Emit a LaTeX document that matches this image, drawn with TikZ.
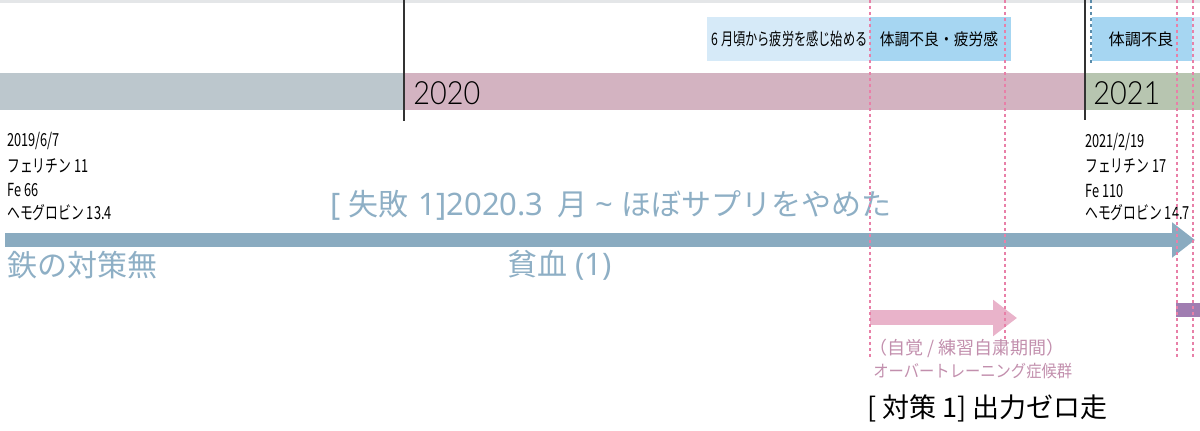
\documentclass[tikz,border=0pt]{standalone}
\usepackage{fontspec}
\setmainfont{Noto Sans CJK JP}
\newfontfamily\cond[FakeStretch=0.71]{Noto Sans CJK JP}
\newfontfamily\condb[FakeStretch=0.9]{Noto Sans CJK JP}
\newfontfamily\lat{Noto Sans}
\newfontfamily\thinfont[FakeStretch=0.9]{Lato Light}
\usetikzlibrary{arrows.meta}
\definecolor{bandgray}{HTML}{BCC7CD}
\definecolor{bandpink}{HTML}{D3B3C1}
\definecolor{bandgreen}{HTML}{B7C5B0}
\definecolor{boxlight}{HTML}{D6EAF8}
\definecolor{boxdark}{HTML}{A6D6F2}
\definecolor{arrowblue}{HTML}{8AABC0}
\definecolor{textblue}{HTML}{8EAFC5}
\definecolor{arrowpink}{HTML}{E9B3CA}
\definecolor{textpink}{HTML}{C28FAD}
\definecolor{barpurple}{HTML}{A07DB1}
\definecolor{guidepink}{HTML}{E880A8}
\definecolor{guideblue}{HTML}{5B8CAA}
\definecolor{topline}{HTML}{E4E6E8}
\begin{document}
\begin{tikzpicture}[x=0.5pt,y=-0.5pt,
  lbl/.style={inner sep=0pt, anchor=west},
  data/.style={lbl, font=\cond\fontsize{9}{10}\selectfont},
  yeartxt/.style={lbl, font=\thinfont\fontsize{16}{18}\selectfont},
  bigblue/.style={lbl, text=textblue, font=\fontsize{15}{16}\selectfont},
  boxtxt/.style={inner sep=0pt},
  pinktxt/.style={lbl, text=textpink},
  guide/.style={draw=guidepink, line width=0.55pt, dash pattern=on 1.5pt off 1.5pt},
  yearline/.style={line width=0.7pt, draw=black!80},
]
\useasboundingbox (0,0) rectangle (1200,431);
\fill[topline] (0,0) rectangle (1200,3);
% year bands
\fill[bandgray] (0,73) rectangle (404,110);
\fill[bandpink] (404,73) rectangle (1085,110);
\fill[bandgreen] (1085,73) rectangle (1200,110);
% condition boxes
\fill[boxlight] (707,17) rectangle (870,61);
\fill[boxdark] (870,17) rectangle (1011,61);
\fill[boxdark] (1092,17) rectangle (1192,61);
\fill[boxlight] (1192,17) rectangle (1200,61);
\node[boxtxt, anchor=east, font=\cond\fontsize{8.6}{10}\selectfont] (fatigue) at (868,39) {6 月頃から疲労を感じ始める};
\node[boxtxt, font=\condb\fontsize{8.2}{10}\selectfont] (unwell1) at (939,39) {体調不良・疲労感};
\node[boxtxt, font=\fontsize{8.1}{10}\selectfont] (unwell2) at (1141,39) {体調不良};
% year labels
\node[yeartxt] (y2020) at (413,93) {2020};
\node[yeartxt] (y2021) at (1093,93) {2021};
% blood data
\node[data] (d1a) at (7,141) {2019/6/7};
\node[data] (d1b) at (7,166) {フェリチン 11};
\node[data] (d1c) at (7,190) {Fe 66};
\node[data] (d1d) at (7,213) {ヘモグロビン 13.4};
\node[data] (d2a) at (1085,142) {2021/2/19};
\node[data] (d2b) at (1085,166) {フェリチン 17};
\node[data] (d2c) at (1085,191) {Fe 110};
\node[data] (d2d) at (1085,213) {ヘモグロビン 14.7};
% main arrow
\coordinate (bs) at (5,240);
\coordinate (be) at (1195,240);
\draw[arrowblue, line width=7pt, -{Triangle[length=11.5pt, width=17pt]}] (bs) -- (be);
\node[bigblue] (fail) at (330,205) {{\lat\fontsize{15.5}{16}\selectfont [ }失敗{\lat\fontsize{15.5}{16}\selectfont\ \hspace{1pt}1]2020.3\hspace{3pt}\ }月{\lat\fontsize{15.5}{16}\selectfont\ \textasciitilde\ }ほぼサプリをやめた};
\node[bigblue] (none) at (7,265) {鉄の対策無};
\node[bigblue] (anemia) at (507,265) {貧血{\lat\fontsize{15.5}{16}\selectfont\ (1)}};
% overtraining arrow
\coordinate (ps) at (870,318);
\coordinate (pe) at (1017,318);
\draw[arrowpink, line width=7.5pt, -{Triangle[length=12pt, width=17.5pt]}] (ps) -- (pe);
\node[pinktxt, font=\fontsize{9}{10}\selectfont] (ot1) at (869,348) {（自覚 / 練習自粛期間）};
\node[pinktxt, font=\condb\fontsize{8.5}{10}\selectfont] (ot2) at (873,371) {オーバートレーニング症候群};
\node[lbl, font=\fontsize{13.5}{15}\selectfont] (measure) at (867,408) {[ 対策 1] 出力ゼロ走};
% purple bar
\fill[barpurple] (1176,303) rectangle (1200,317);
% guides
\draw[guide] (870,0) -- (870,357);
\draw[guide] (1005,0) -- (1005,340);
\draw[guide] (1177,0) -- (1177,357);
\draw[guide] (1193,0) -- (1193,357);
\draw[draw=guideblue, line width=0.55pt, dash pattern=on 1.5pt off 1.5pt] (1091,0) -- (1091,63);
\draw[yearline] (404,0) -- (404,121);
\draw[yearline] (1085,0) -- (1085,120);
\end{tikzpicture}
\end{document}
